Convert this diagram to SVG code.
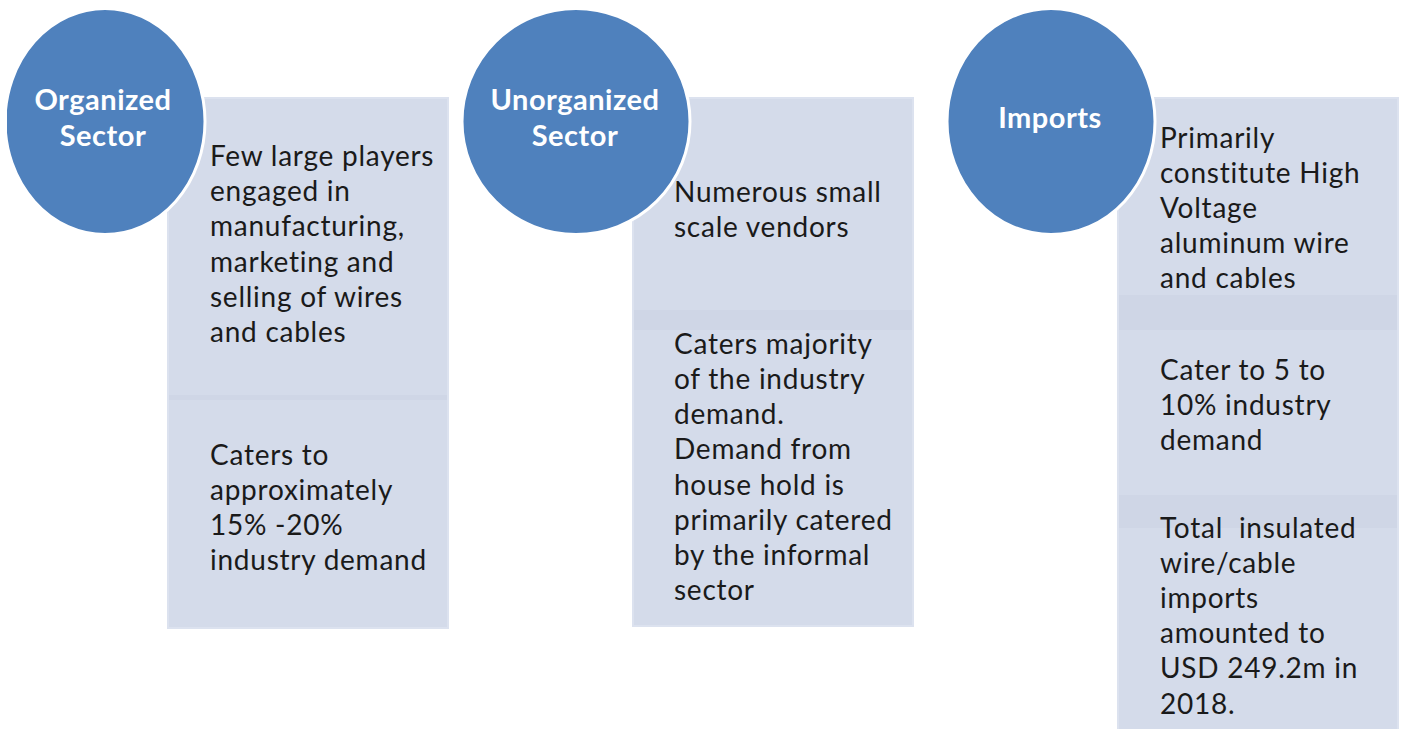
<svg xmlns="http://www.w3.org/2000/svg" width="1402" height="729" viewBox="0 0 1402 729">
<style>
.box{fill:#D4DBEA;stroke:#DCE2EF;stroke-width:2}
.band{fill:#CFD6E6}
.circ{fill:#4F81BD;stroke:#FFFFFF;stroke-width:3}
.lbl{font-family:Lato,"Open Sans",sans-serif;font-weight:bold;font-size:29px;letter-spacing:0.5px;fill:#FFFFFF;text-anchor:middle}
.txt{font-family:Lato,"Open Sans",sans-serif;font-size:28px;letter-spacing:0.75px;fill:#1A1A1A}
</style>
<defs>
<clipPath id="clipL"><rect x="7" y="0" width="1395" height="729"/></clipPath>
</defs>
<rect width="1402" height="729" fill="#FFFFFF"/>
<g id="organized-details">
<rect class="box" x="168" y="98" width="280" height="530"/>
<rect class="band" x="169" y="395" width="278" height="5"/>
<text class="txt"><tspan x="210" y="166">Few large players</tspan><tspan x="210" y="201">engaged in</tspan><tspan x="210" y="236">manufacturing,</tspan><tspan x="210" y="272">marketing and</tspan><tspan x="210" y="307">selling of wires</tspan><tspan x="210" y="342">and cables</tspan></text>
<text class="txt"><tspan x="210" y="465">Caters to</tspan><tspan x="210" y="500">approximately</tspan><tspan x="210" y="535">15% -20%</tspan><tspan x="210" y="570">industry demand</tspan></text>
</g>
<g id="unorganized-details">
<rect class="box" x="633" y="98" width="280" height="528"/>
<rect class="band" x="634" y="310" width="278" height="20"/>
<text class="txt"><tspan x="674" y="202">Numerous small</tspan><tspan x="674" y="237">scale vendors</tspan></text>
<text class="txt"><tspan x="674" y="354">Caters majority</tspan><tspan x="674" y="389">of the industry</tspan><tspan x="674" y="424">demand.</tspan><tspan x="674" y="459">Demand from</tspan><tspan x="674" y="495">house hold is</tspan><tspan x="674" y="530">primarily catered</tspan><tspan x="674" y="565">by the informal</tspan><tspan x="674" y="600">sector</tspan></text>
</g>
<g id="imports-details">
<rect class="box" x="1118" y="98" width="280" height="640"/>
<rect class="band" x="1119" y="295" width="278" height="35"/>
<rect class="band" x="1119" y="495" width="278" height="33"/>
<text class="txt"><tspan x="1160" y="148">Primarily</tspan><tspan x="1160" y="183">constitute High</tspan><tspan x="1160" y="218">Voltage</tspan><tspan x="1160" y="253">aluminum wire</tspan><tspan x="1160" y="288">and cables</tspan></text>
<text class="txt"><tspan x="1160" y="380">Cater to 5 to</tspan><tspan x="1160" y="415">10% industry</tspan><tspan x="1160" y="450">demand</tspan></text>
<text class="txt" style="white-space:pre"><tspan x="1160" y="538">Total  insulated</tspan><tspan x="1160" y="573">wire/cable</tspan><tspan x="1160" y="608">imports</tspan><tspan x="1160" y="643">amounted to</tspan><tspan x="1160" y="678">USD 249.2m in</tspan><tspan x="1160" y="714">2018.</tspan></text>
</g>
<g id="organized-sector" clip-path="url(#clipL)">
<ellipse class="circ" cx="105" cy="121.5" rx="100" ry="113"/>
<text class="lbl"><tspan x="103" y="110">Organized</tspan><tspan x="103" y="146">Sector</tspan></text>
</g>
<g id="unorganized-sector">
<ellipse class="circ" cx="576" cy="121.5" rx="114" ry="113"/>
<text class="lbl"><tspan x="575" y="110">Unorganized</tspan><tspan x="575" y="146">Sector</tspan></text>
</g>
<g id="imports">
<ellipse class="circ" cx="1051" cy="121.5" rx="104" ry="113"/>
<text class="lbl" x="1050" y="128">Imports</text>
</g>
</svg>
